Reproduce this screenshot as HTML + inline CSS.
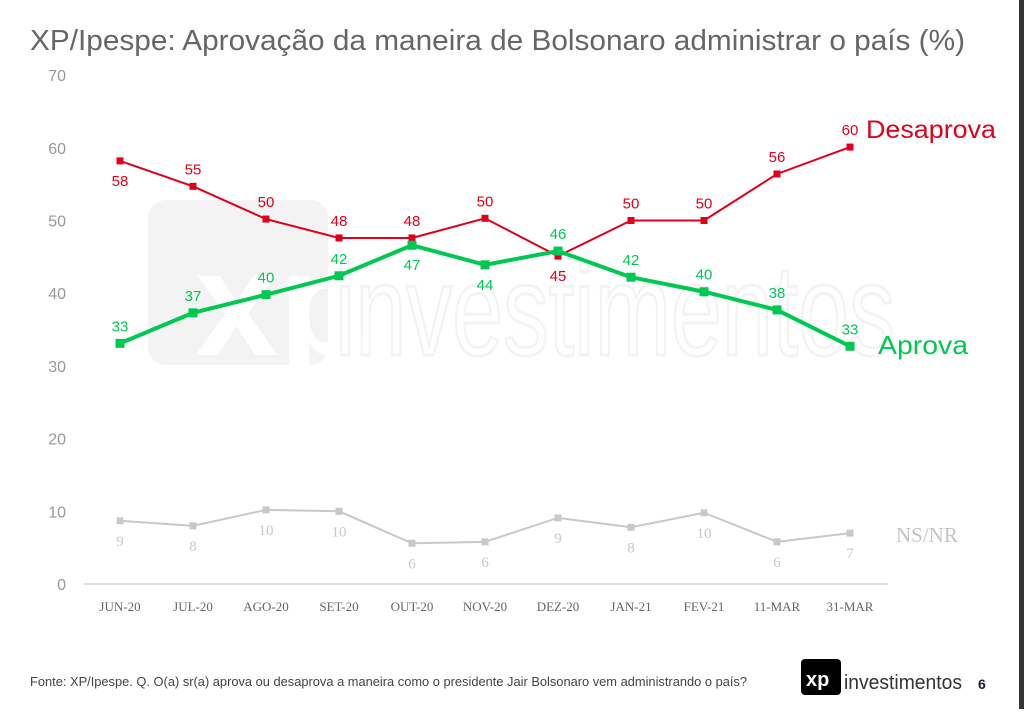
<!DOCTYPE html>
<html><head><meta charset="utf-8">
<style>
html,body{margin:0;padding:0;background:#fff;}
body{width:1024px;height:709px;overflow:hidden;position:relative;font-family:"Liberation Sans",sans-serif;}
</style></head>
<body>
<svg id="chart" width="1024" height="709" viewBox="0 0 1024 709" xmlns="http://www.w3.org/2000/svg">
  <rect x="1019" y="0" width="5" height="709" fill="#333"/>
  <text x="30" y="50" font-size="29" fill="#666" textLength="935" lengthAdjust="spacingAndGlyphs" font-family="Liberation Sans, sans-serif">XP/Ipespe: Aprovação da maneira de Bolsonaro administrar o país (%)</text>
  <g opacity="0.045">
    <rect x="148" y="200" width="180" height="165" rx="18" fill="#000"/>
    <text x="195" y="355" font-size="150" font-weight="bold" fill="#fff" font-family="Liberation Sans, sans-serif">xp</text>
    <text x="335" y="355" font-size="130" fill="none" stroke="#000" stroke-width="3" font-family="Liberation Sans, sans-serif" textLength="560" lengthAdjust="spacingAndGlyphs">investimentos</text>
  </g>
  <g id="axes"></g>
  <g id="series"></g>
  <text x="866" y="138" font-size="25" fill="#e0001b" textLength="130" lengthAdjust="spacingAndGlyphs">Desaprova</text>
  <text x="878" y="354" font-size="26" fill="#00c853" textLength="90" lengthAdjust="spacingAndGlyphs">Aprova</text>
  <text x="896" y="542" font-size="21" fill="#c4c4c4" font-family="Liberation Serif, serif">NS/NR</text>
  <text x="30" y="686" font-size="12.5" fill="#444" textLength="717" lengthAdjust="spacingAndGlyphs">Fonte: XP/Ipespe. Q. O(a) sr(a) aprova ou desaprova a maneira como o presidente Jair Bolsonaro vem administrando o país?</text>
  <g>
    <rect x="801" y="659" width="40" height="36" rx="4" fill="#000"/>
    <text x="806" y="686" font-size="20" font-weight="bold" fill="#fff">xp</text>
    <text x="844" y="689" font-size="20" fill="#333" textLength="118" lengthAdjust="spacingAndGlyphs">investimentos</text>
  </g>
  <text x="978" y="689" font-size="14" font-weight="bold" fill="#1a1a3a">6</text>
</svg>
<script>
const categories = ["JUN-20","JUL-20","AGO-20","SET-20","OUT-20","NOV-20","DEZ-20","JAN-21","FEV-21","11-MAR","31-MAR"];
const desaprova = [58.2,54.7,50.2,47.6,47.6,50.3,45.1,50,50,56.4,60.1];
const desaprovaLabels = ["58","55","50","48","48","50","45","50","50","56","60"];
const desaprovaBelow = [1,0,0,0,0,0,1,0,0,0,0];
const aprova = [33.1,37.3,39.8,42.4,46.6,43.9,45.8,42.2,40.2,37.7,32.7];
const aprovaLabels = ["33","37","40","42","47","44","46","42","40","38","33"];
const aprovaBelow = [0,0,0,0,1,1,0,0,0,0,0];
const nsnr = [8.7,8.0,10.2,10.0,5.6,5.8,9.1,7.8,9.8,5.8,7.0];
const nsnrLabels = ["9","8","10","10","6","6","9","8","10","6","7"];
const yTicks = [0,10,20,30,40,50,60,70];

const NS="http://www.w3.org/2000/svg";
function x(i){return 120+i*73;}
function y(v){return 584-v*7.27;}
function mk(tag,attrs,parent){const e=document.createElementNS(NS,tag);for(const k in attrs)e.setAttribute(k,attrs[k]);parent.appendChild(e);return e;}
const axes=document.getElementById('axes'), series=document.getElementById('series');
let l=mk('line',{x1:84,x2:888,y1:y(0),y2:y(0),stroke:'#bbb','stroke-width':1},axes);


yTicks.forEach(t=>{
  const e=mk('text',{x:66,y:y(t)+6,'font-size':16,fill:'#999','text-anchor':'end'},axes);
  
  
  e.textContent=t;
});
categories.forEach((c,i)=>{
  const e=mk('text',{x:x(i),y:611,'font-size':13,fill:'#666','text-anchor':'middle','font-family':'Liberation Serif, serif'},axes);
  
  
  e.textContent=c;
});
function draw(vals,labels,below,color,w,ms,name,fs,font){
  const g=mk('g',{},series);
  
  
  const p=mk('polyline',{points:vals.map((v,i)=>x(i)+','+y(v)).join(' '),fill:'none',stroke:color,'stroke-width':w},g);
  
  
  vals.forEach((v,i)=>{
    const r=mk('rect',{x:x(i)-ms/2,y:y(v)-ms/2,width:ms,height:ms,fill:color},g);
    
    
    const t=mk('text',{x:x(i),y:below[i]?y(v)+25:y(v)-12,'font-size':fs,fill:color,'text-anchor':'middle','font-family':font},g);
    
    
    t.textContent=labels[i];
  });
}
draw(nsnr,nsnrLabels,nsnr.map(()=>1),'#c8c8c8',2,7,'nsnr',15,'Liberation Serif, serif');
draw(desaprova,desaprovaLabels,desaprovaBelow,'#e0001b',2,7,'desaprova',15,'Liberation Sans, sans-serif');
draw(aprova,aprovaLabels,aprovaBelow,'#00c853',4,9,'aprova',15,'Liberation Sans, sans-serif');
</script>
</body></html>
